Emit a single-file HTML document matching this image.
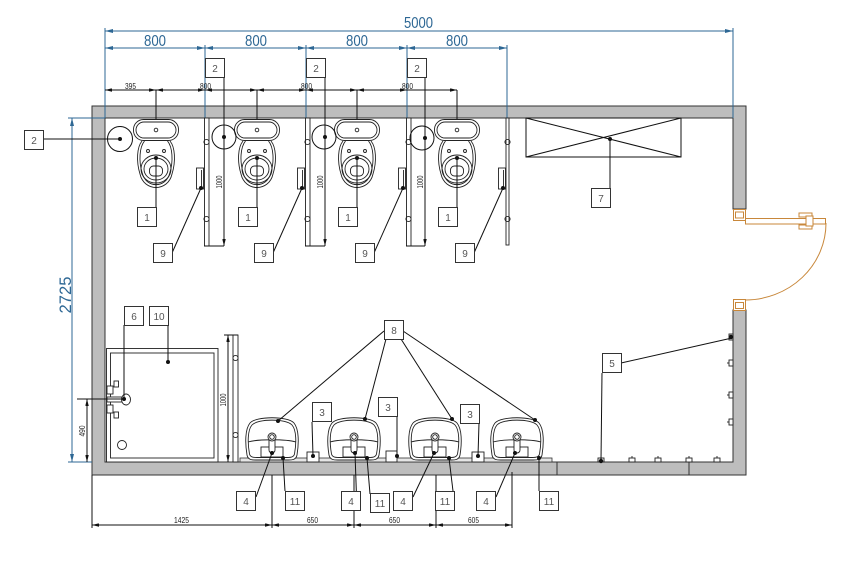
<!DOCTYPE html>
<html><head><meta charset="utf-8"><style>html,body{margin:0;padding:0;background:#fff}svg{display:block}</style></head>
<body>
<svg width="845" height="570" viewBox="0 0 845 570" xmlns="http://www.w3.org/2000/svg" font-family="Liberation Sans, DejaVu Sans, sans-serif">
<defs>
<marker id="mb" viewBox="0 0 8 4" refX="8" refY="2" markerWidth="8" markerHeight="4" orient="auto-start-reverse" markerUnits="userSpaceOnUse"><path d="M0,0L8,2L0,4z" fill="#2d6794"/></marker>
<marker id="mk" viewBox="0 0 7 3.5" refX="7" refY="1.75" markerWidth="7" markerHeight="3.5" orient="auto-start-reverse" markerUnits="userSpaceOnUse"><path d="M0,0L7,1.75L0,3.5z" fill="#111"/></marker>
<g id="wc" fill="none" stroke="#222" stroke-width="0.9">
 <rect x="-22.5" y="0.5" width="45" height="21" rx="10"/>
 <rect x="-20" y="3" width="40" height="16" rx="8"/>
 <circle cx="0" cy="11" r="1.8"/>
 <path d="M-14,22 C-19,28 -20,42 -16,55 C-12,73 12,73 16,55 C20,42 19,28 14,22"/>
 <path d="M-11.5,22 C-16.5,28 -17.5,42 -13.8,54 C-10,69.5 10,69.5 13.8,54 C17.5,42 16.5,28 11.5,22"/>
 <ellipse cx="0" cy="50" rx="15" ry="14"/>
 <ellipse cx="0" cy="50" rx="12" ry="11"/>
 <rect x="-6.5" y="47" width="13" height="10" rx="4"/>
 <circle cx="-8" cy="32" r="1.5"/>
 <circle cx="8" cy="32" r="1.5"/>
</g>
<g id="sink" fill="none" stroke="#222" stroke-width="0.9">
 <path d="M-25,40 C-27,28 -27,14 -22,8 C-16,1 16,1 22,8 C27,14 27,28 25,40 C24,45 20,45 16,45 L-16,45 C-20,45 -24,45 -25,40 Z" fill="#fff"/>
 <path d="M-22.5,39 C-24.5,28 -24.5,15 -20,10 C-14,3.5 14,3.5 20,10 C24.5,15 24.5,28 22.5,39 C21.5,42.5 18,42.5 15,42.5 L-15,42.5 C-18,42.5 -21.5,42.5 -22.5,39 Z"/>
 <path d="M-24,27 C-14,24 14,24 24,27"/>
 <rect x="-11" y="32" width="22" height="10" fill="#fff"/>
 <rect x="-3" y="19" width="6" height="19" rx="3" fill="#fff"/>
 <circle cx="0" cy="22" r="4" fill="#fff"/>
 <circle cx="0" cy="22" r="2.3"/>
</g>
</defs>

<rect width="845" height="570" fill="#fff"/>

<!-- walls -->
<path d="M92,106 H746 V209 H733 V118 H105 V462 H733 V310 H746 V475 H92 Z" fill="#bdbdbd" stroke="#333" stroke-width="1"/>
<line x1="557" y1="462" x2="557" y2="475" stroke="#333"/>
<line x1="689" y1="462" x2="689" y2="475" stroke="#333"/>

<!-- top blue dimensions -->
<g stroke="#2d6794" stroke-width="1" fill="none">
 <line x1="105" y1="28" x2="105" y2="118"/>
 <line x1="733" y1="28" x2="733" y2="118"/>
 <line x1="205" y1="45" x2="205" y2="118"/>
 <line x1="306" y1="45" x2="306" y2="118"/>
 <line x1="407" y1="45" x2="407" y2="118"/>
 <line x1="507" y1="45" x2="507" y2="118"/>
 <line x1="105" y1="31" x2="733" y2="31" marker-start="url(#mb)" marker-end="url(#mb)"/>
 <line x1="105" y1="48" x2="205" y2="48" marker-start="url(#mb)" marker-end="url(#mb)"/>
 <line x1="205" y1="48" x2="306" y2="48" marker-start="url(#mb)" marker-end="url(#mb)"/>
 <line x1="306" y1="48" x2="407" y2="48" marker-start="url(#mb)" marker-end="url(#mb)"/>
 <line x1="407" y1="48" x2="507" y2="48" marker-start="url(#mb)" marker-end="url(#mb)"/>
 <!-- 2725 -->
 <line x1="68" y1="118" x2="105" y2="118"/>
 <line x1="68" y1="462" x2="92" y2="462"/>
 <line x1="72" y1="118" x2="72" y2="462" marker-start="url(#mb)" marker-end="url(#mb)"/>
</g>
<g fill="#2d6794" font-size="16">
 <text x="404" y="28" textLength="29" lengthAdjust="spacingAndGlyphs">5000</text>
 <text x="144" y="46" textLength="22" lengthAdjust="spacingAndGlyphs">800</text>
 <text x="245" y="46" textLength="22" lengthAdjust="spacingAndGlyphs">800</text>
 <text x="346" y="46" textLength="22" lengthAdjust="spacingAndGlyphs">800</text>
 <text x="446" y="46" textLength="22" lengthAdjust="spacingAndGlyphs">800</text>
 <text transform="translate(71,295) rotate(-90)" text-anchor="middle" font-size="17" textLength="37" lengthAdjust="spacingAndGlyphs">2725</text>
</g>

<!-- small top dims row -->
<g stroke="#111" stroke-width="1" fill="none">
 <line x1="105" y1="90" x2="156" y2="90" marker-start="url(#mk)" marker-end="url(#mk)"/>
 <line x1="156" y1="90" x2="205" y2="90" marker-start="url(#mk)" marker-end="url(#mk)"/>
 <line x1="205" y1="90" x2="257" y2="90" marker-start="url(#mk)" marker-end="url(#mk)"/>
 <line x1="257" y1="90" x2="306" y2="90" marker-start="url(#mk)" marker-end="url(#mk)"/>
 <line x1="306" y1="90" x2="357" y2="90" marker-start="url(#mk)" marker-end="url(#mk)"/>
 <line x1="357" y1="90" x2="407" y2="90" marker-start="url(#mk)" marker-end="url(#mk)"/>
 <line x1="407" y1="90" x2="457" y2="90" marker-end="url(#mk)"/>
 <line x1="156" y1="90" x2="156" y2="119"/>
 <line x1="257" y1="90" x2="257" y2="119"/>
 <line x1="357" y1="90" x2="357" y2="119"/>
 <line x1="457" y1="90" x2="457" y2="119"/>
</g>
<g fill="#222" font-size="8">
 <text x="125" y="89" textLength="11" lengthAdjust="spacingAndGlyphs">395</text>
 <text x="200" y="89" textLength="11" lengthAdjust="spacingAndGlyphs">800</text>
 <text x="301" y="89" textLength="11" lengthAdjust="spacingAndGlyphs">800</text>
 <text x="402" y="89" textLength="11" lengthAdjust="spacingAndGlyphs">800</text>
</g>

<!-- toilets -->
<use href="#wc" x="156" y="119"/>
<use href="#wc" x="257" y="119"/>
<use href="#wc" x="357" y="119"/>
<use href="#wc" x="457" y="119"/>

<!-- partitions -->
<g stroke="#222" stroke-width="0.9" fill="#fff">
 <rect x="204.5" y="118" width="4.5" height="128"/>
 <rect x="305.5" y="118" width="4.5" height="128"/>
 <rect x="406.5" y="118" width="4.5" height="128"/>
 <rect x="506" y="118" width="3" height="127"/>
 <g fill="none">
  <circle cx="206.5" cy="142" r="2.6"/><circle cx="206.5" cy="219" r="2.6"/>
  <circle cx="307.5" cy="142" r="2.6"/><circle cx="307.5" cy="219" r="2.6"/>
  <circle cx="408.5" cy="142" r="2.6"/><circle cx="408.5" cy="219" r="2.6"/>
  <circle cx="507.5" cy="142" r="2.6"/><circle cx="507.5" cy="219" r="2.6"/>
 </g>
 <!-- paper holders -->
 <rect x="196.5" y="168" width="7" height="21"/><line x1="201.5" y1="170" x2="201.5" y2="187"/>
 <rect x="297.5" y="168" width="7" height="21"/><line x1="302.5" y1="170" x2="302.5" y2="187"/>
 <rect x="398.5" y="168" width="7" height="21"/><line x1="403.5" y1="170" x2="403.5" y2="187"/>
 <rect x="498.5" y="168" width="7" height="21"/><line x1="503.5" y1="170" x2="503.5" y2="187"/>
</g>
<g stroke="#111" stroke-width="1" fill="none">
 <line x1="204" y1="246" x2="224" y2="246"/>
 <line x1="305" y1="246" x2="325" y2="246"/>
 <line x1="406" y1="246" x2="425" y2="246"/>
 <line x1="224" y1="77" x2="224" y2="246" marker-end="url(#mk)"/>
 <line x1="325" y1="77" x2="325" y2="246" marker-end="url(#mk)"/>
 <line x1="425" y1="77" x2="425" y2="246" marker-end="url(#mk)"/>
 <circle cx="224" cy="137" r="12"/>
 <circle cx="324" cy="137" r="12"/>
 <circle cx="422" cy="138" r="12"/>
 <circle cx="120" cy="139" r="12.5"/>
 <line x1="43" y1="139" x2="120" y2="139"/>
 <!-- toilet leaders -->
 <line x1="156" y1="158" x2="156" y2="217"/>
 <line x1="257" y1="158" x2="257" y2="217"/>
 <line x1="357" y1="158" x2="357" y2="217"/>
 <line x1="457" y1="158" x2="457" y2="217"/>
 <!-- holder leaders -->
 <line x1="172" y1="253" x2="201" y2="188"/>
 <line x1="273" y1="253" x2="302" y2="188"/>
 <line x1="374" y1="253" x2="403" y2="188"/>
 <line x1="474" y1="253" x2="503" y2="188"/>
</g>
<g fill="#111">
 <circle cx="120" cy="139" r="2"/><circle cx="224" cy="137" r="2"/><circle cx="325" cy="137" r="2"/><circle cx="425" cy="138" r="2"/>
 <circle cx="156" cy="158" r="2"/><circle cx="257" cy="158" r="2"/><circle cx="357" cy="158" r="2"/><circle cx="457" cy="158" r="2"/>
 <circle cx="201" cy="188" r="2"/><circle cx="302" cy="188" r="2"/><circle cx="403" cy="188" r="2"/><circle cx="503" cy="188" r="2"/>
</g>
<g fill="#222" font-size="8">
 <text transform="translate(222,182) rotate(-90)" text-anchor="middle" textLength="13" lengthAdjust="spacingAndGlyphs">1000</text>
 <text transform="translate(323,182) rotate(-90)" text-anchor="middle" textLength="13" lengthAdjust="spacingAndGlyphs">1000</text>
 <text transform="translate(423,182) rotate(-90)" text-anchor="middle" textLength="13" lengthAdjust="spacingAndGlyphs">1000</text>
 <text transform="translate(226,400) rotate(-90)" text-anchor="middle" textLength="13" lengthAdjust="spacingAndGlyphs">1000</text>
 <text transform="translate(85,431) rotate(-90)" text-anchor="middle" textLength="11" lengthAdjust="spacingAndGlyphs">490</text>
</g>

<!-- item 7 -->
<g stroke="#111" stroke-width="1" fill="none">
 <rect x="526" y="118" width="155" height="39"/>
 <line x1="526" y1="118" x2="681" y2="157"/>
 <line x1="526" y1="157" x2="681" y2="118"/>
 <line x1="610" y1="139" x2="610" y2="188"/>
</g>
<circle cx="610" cy="139" r="2" fill="#111"/>

<!-- door -->
<g stroke="#c8873a" fill="#fff" stroke-width="1">
 <rect x="733.5" y="209.5" width="12" height="11"/>
 <rect x="735.5" y="212" width="8" height="6"/>
 <rect x="733.5" y="299.5" width="12" height="11"/>
 <rect x="735.5" y="302.5" width="8" height="6"/>
 <rect x="745.5" y="218.5" width="80" height="5.5"/>
 <rect x="799" y="213" width="13" height="4"/>
 <rect x="799" y="225" width="13" height="4"/>
 <rect x="806" y="216" width="7" height="10"/>
 <path d="M826,223 A81,77 0 0 1 745,300" fill="none"/>
</g>

<!-- shower tray -->
<g stroke="#222" stroke-width="0.9" fill="#fff">
 <rect x="106.5" y="348.5" width="111.5" height="113.5"/>
 <rect x="110.5" y="353" width="103.5" height="105"/>
 <circle cx="122" cy="445" r="4.5"/>
 <!-- mixer -->
 <rect x="114" y="381" width="4.5" height="6"/>
 <rect x="107" y="386" width="6" height="8"/>
 <rect x="107" y="397" width="17" height="5"/>
 <rect x="107" y="405" width="6" height="8"/>
 <rect x="114" y="412" width="4.5" height="6"/>
 <ellipse cx="126" cy="399.5" rx="4.5" ry="5.5"/>
 <!-- partition -->
 <rect x="233" y="335" width="5" height="127"/>
 <circle cx="235.5" cy="358" r="2.6" fill="none"/>
 <circle cx="235.5" cy="435" r="2.6" fill="none"/>
</g>
<g stroke="#111" stroke-width="1" fill="none">
 <line x1="224" y1="335" x2="238" y2="335"/>
 <line x1="228" y1="335" x2="228" y2="462" marker-start="url(#mk)" marker-end="url(#mk)"/>
 <line x1="77" y1="399" x2="126" y2="399"/>
 <line x1="87" y1="399" x2="87" y2="462" marker-start="url(#mk)" marker-end="url(#mk)"/>
 <line x1="124" y1="325" x2="124" y2="399"/>
 <line x1="168" y1="325" x2="168" y2="362"/>
</g>
<circle cx="124" cy="399" r="2" fill="#111"/>
<circle cx="168" cy="362" r="2" fill="#111"/>

<!-- counter -->
<rect x="240" y="458" width="312" height="4" fill="#e6e6e6" stroke="#333" stroke-width="0.8"/>

<!-- sinks -->
<use href="#sink" x="272" y="415"/>
<use href="#sink" x="354" y="415"/>
<use href="#sink" x="435" y="415"/>
<use href="#sink" x="517" y="415"/>

<!-- dispensers 3 -->
<g stroke="#222" stroke-width="0.9" fill="#fff">
 <rect x="307" y="452" width="12" height="10"/>
 <rect x="386" y="451" width="11" height="11"/>
 <rect x="472" y="452" width="12" height="10"/>
</g>

<!-- right wall fixtures -->
<g stroke="#222" stroke-width="0.9" fill="#fff">
 <rect x="729" y="334" width="4" height="6"/>
 <rect x="729" y="360" width="4" height="6"/><line x1="727" y1="363" x2="729" y2="363"/>
 <rect x="729" y="392" width="4" height="6"/><line x1="727" y1="395" x2="729" y2="395"/>
 <rect x="729" y="419" width="4" height="6"/><line x1="727" y1="422" x2="729" y2="422"/>
 <rect x="598" y="458" width="6" height="4"/>
 <rect x="629" y="458" width="6" height="4"/><line x1="632" y1="456" x2="632" y2="458"/>
 <rect x="655" y="458" width="6" height="4"/><line x1="658" y1="456" x2="658" y2="458"/>
 <rect x="686" y="458" width="6" height="4"/><line x1="689" y1="456" x2="689" y2="458"/>
 <rect x="714" y="458" width="6" height="4"/><line x1="717" y1="456" x2="717" y2="458"/>
</g>

<!-- leaders lower -->
<g stroke="#111" stroke-width="1" fill="none">
 <line x1="384" y1="331" x2="278" y2="421"/>
 <line x1="386" y1="339" x2="365" y2="419"/>
 <line x1="401" y1="339" x2="452" y2="419"/>
 <line x1="403" y1="331" x2="535" y2="420"/>
 <line x1="312" y1="422" x2="313" y2="456"/>
 <line x1="397" y1="416" x2="397" y2="456"/>
 <line x1="479" y1="423" x2="478" y2="456"/>
 <line x1="621" y1="363" x2="732" y2="338"/>
 <line x1="602" y1="373" x2="601" y2="461"/>
 <!-- 4 leaders -->
 <line x1="256" y1="497" x2="272" y2="453"/>
 <line x1="357" y1="511" x2="355" y2="453"/>
 <line x1="413" y1="497" x2="434" y2="453"/>
 <line x1="496" y1="497" x2="515" y2="453"/>
 <!-- 11 leaders -->
 <line x1="285" y1="491" x2="283" y2="458"/>
 <line x1="370" y1="494" x2="367" y2="458"/>
 <line x1="453" y1="491" x2="449" y2="458"/>
 <line x1="539" y1="491" x2="539" y2="458"/>
 <!-- bottom dims -->
 <line x1="92" y1="475" x2="92" y2="528"/>
 <line x1="272" y1="475" x2="272" y2="528"/>
 <line x1="354" y1="475" x2="354" y2="528"/>
 <line x1="436" y1="475" x2="436" y2="528"/>
 <line x1="512" y1="472" x2="512" y2="528"/>
 <line x1="92" y1="525" x2="272" y2="525" marker-start="url(#mk)" marker-end="url(#mk)"/>
 <line x1="272" y1="525" x2="354" y2="525" marker-start="url(#mk)" marker-end="url(#mk)"/>
 <line x1="354" y1="525" x2="436" y2="525" marker-start="url(#mk)" marker-end="url(#mk)"/>
 <line x1="436" y1="525" x2="512" y2="525" marker-start="url(#mk)" marker-end="url(#mk)"/>
</g>
<g fill="#111">
 <circle cx="278" cy="421" r="2"/><circle cx="365" cy="419" r="2"/><circle cx="452" cy="419" r="2"/><circle cx="535" cy="420" r="2"/>
 <circle cx="313" cy="456" r="2"/><circle cx="397" cy="456" r="2"/><circle cx="478" cy="456" r="2"/>
 <circle cx="272" cy="453" r="2"/><circle cx="355" cy="453" r="2"/><circle cx="434" cy="453" r="2"/><circle cx="515" cy="453" r="2"/>
 <circle cx="283" cy="458" r="2"/><circle cx="367" cy="458" r="2"/><circle cx="449" cy="458" r="2"/><circle cx="539" cy="458" r="2"/>
 <circle cx="731" cy="337" r="2.2"/><circle cx="601" cy="461" r="2.2"/>
</g>
<g fill="#222" font-size="8">
 <text x="174" y="523" textLength="15" lengthAdjust="spacingAndGlyphs">1425</text>
 <text x="307" y="523" textLength="11" lengthAdjust="spacingAndGlyphs">650</text>
 <text x="389" y="523" textLength="11" lengthAdjust="spacingAndGlyphs">650</text>
 <text x="468" y="523" textLength="11" lengthAdjust="spacingAndGlyphs">605</text>
</g>

<!-- label boxes -->
<g stroke="#333" stroke-width="1" fill="#fff">
 <rect x="24.5" y="130.5" width="19" height="19"/>
 <rect x="205.5" y="58.5" width="19" height="19"/>
 <rect x="306.5" y="58.5" width="19" height="19"/>
 <rect x="407.5" y="58.5" width="19" height="19"/>
 <rect x="137.5" y="207.5" width="19" height="19"/>
 <rect x="238.5" y="207.5" width="19" height="19"/>
 <rect x="338.5" y="207.5" width="19" height="19"/>
 <rect x="438.5" y="207.5" width="19" height="19"/>
 <rect x="153.5" y="243.5" width="19" height="19"/>
 <rect x="254.5" y="243.5" width="19" height="19"/>
 <rect x="355.5" y="243.5" width="19" height="19"/>
 <rect x="455.5" y="243.5" width="19" height="19"/>
 <rect x="591.5" y="188.5" width="19" height="19"/>
 <rect x="124.5" y="306.5" width="19" height="19"/>
 <rect x="149.5" y="306.5" width="19" height="19"/>
 <rect x="384.5" y="320.5" width="19" height="19"/>
 <rect x="312.5" y="402.5" width="19" height="19"/>
 <rect x="378.5" y="397.5" width="19" height="19"/>
 <rect x="460.5" y="404.5" width="19" height="19"/>
 <rect x="602.5" y="353.5" width="19" height="19"/>
 <rect x="236.5" y="491.5" width="19" height="19"/>
 <rect x="285.5" y="491.5" width="19" height="19"/>
 <rect x="341.5" y="491.5" width="19" height="19"/>
 <rect x="370.5" y="493.5" width="19" height="19"/>
 <rect x="393.5" y="491.5" width="19" height="19"/>
 <rect x="435.5" y="491.5" width="19" height="19"/>
 <rect x="476.5" y="491.5" width="19" height="19"/>
 <rect x="539.5" y="491.5" width="19" height="19"/>
</g>
<g fill="#555" font-size="10" text-anchor="middle">
 <text x="34" y="144">2</text>
 <text x="215" y="72">2</text>
 <text x="316" y="72">2</text>
 <text x="417" y="72">2</text>
 <text x="147" y="221">1</text>
 <text x="248" y="221">1</text>
 <text x="348" y="221">1</text>
 <text x="448" y="221">1</text>
 <text x="163" y="257">9</text>
 <text x="264" y="257">9</text>
 <text x="365" y="257">9</text>
 <text x="465" y="257">9</text>
 <text x="601" y="202">7</text>
 <text x="134" y="320">6</text>
 <text x="159" y="320">10</text>
 <text x="394" y="334">8</text>
 <text x="322" y="416">3</text>
 <text x="388" y="411">3</text>
 <text x="470" y="418">3</text>
 <text x="612" y="367">5</text>
 <text x="246" y="505">4</text>
 <text x="295" y="505">11</text>
 <text x="351" y="505">4</text>
 <text x="380" y="507">11</text>
 <text x="403" y="505">4</text>
 <text x="445" y="505">11</text>
 <text x="486" y="505">4</text>
 <text x="549" y="505">11</text>
</g>
</svg>
</body></html>
